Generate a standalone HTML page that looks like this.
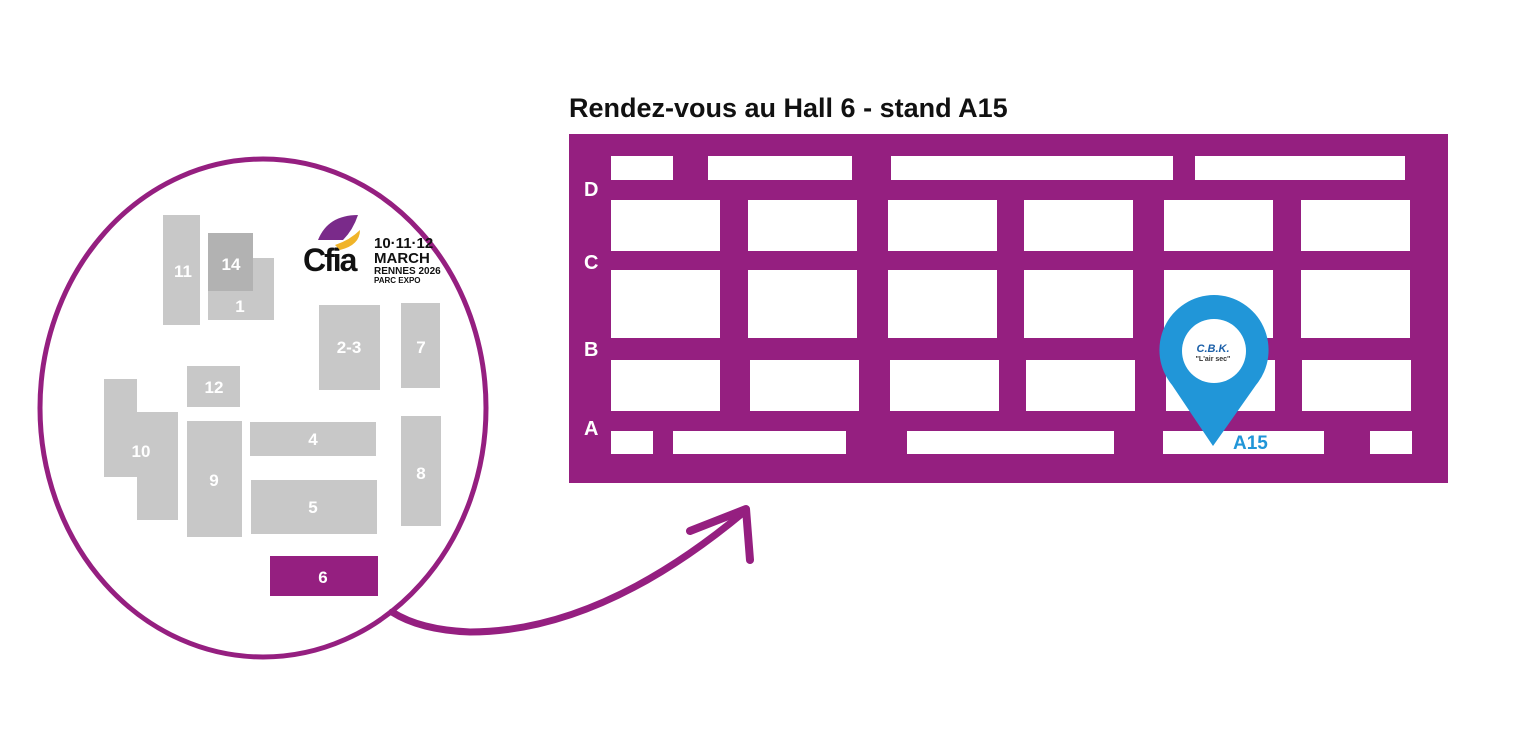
<!DOCTYPE html>
<html><head><meta charset="utf-8"><style>
html,body{margin:0;padding:0;background:#fff;}
svg{display:block;}
text{font-family:"Liberation Sans",sans-serif;font-weight:bold;}
</style></head><body>
<svg width="1536" height="730" viewBox="0 0 1536 730" xmlns="http://www.w3.org/2000/svg">
<text x="569" y="117" font-size="27" fill="#111">Rendez-vous au Hall 6 - stand A15</text>
<rect x="569" y="134" width="879" height="349" fill="#951f80"/>
<g fill="#fff">
<rect x="611" y="156" width="62" height="24"/><rect x="708" y="156" width="144" height="24"/><rect x="891" y="156" width="282" height="24"/><rect x="1195" y="156" width="210" height="24"/>
<rect x="611" y="200" width="109" height="51"/><rect x="748" y="200" width="109" height="51"/><rect x="888" y="200" width="109" height="51"/><rect x="1024" y="200" width="109" height="51"/><rect x="1164" y="200" width="109" height="51"/><rect x="1301" y="200" width="109" height="51"/>
<rect x="611" y="270" width="109" height="68"/><rect x="748" y="270" width="109" height="68"/><rect x="888" y="270" width="109" height="68"/><rect x="1024" y="270" width="109" height="68"/><rect x="1164" y="270" width="109" height="68"/><rect x="1301" y="270" width="109" height="68"/>
<rect x="611" y="360" width="109" height="51"/><rect x="750" y="360" width="109" height="51"/><rect x="890" y="360" width="109" height="51"/><rect x="1026" y="360" width="109" height="51"/><rect x="1166" y="360" width="109" height="51"/><rect x="1302" y="360" width="109" height="51"/>
<rect x="611" y="431" width="42" height="23"/><rect x="673" y="431" width="173" height="23"/><rect x="907" y="431" width="207" height="23"/><rect x="1163" y="431" width="161" height="23"/><rect x="1370" y="431" width="42" height="23"/>
<text x="584" y="196" font-size="20">D</text><text x="584" y="269" font-size="20">C</text><text x="584" y="356" font-size="20">B</text><text x="584" y="435" font-size="20">A</text>
</g>
<path d="M1214 295 a55 55 0 0 1 42 90 L1213 446 L1172 385 a55 55 0 0 1 42 -90z" fill="#2196d8"/>
<circle cx="1214" cy="351" r="32" fill="#fff"/>
<text x="1213" y="352" font-size="11" fill="#1b5fa8" text-anchor="middle" font-style="italic">C.B.K.</text>
<text x="1213" y="361" font-size="7" fill="#333" text-anchor="middle">"L'air sec"</text>
<text x="1233" y="449" font-size="19" fill="#2196d8">A15</text>

<ellipse cx="263" cy="408" rx="223" ry="249" fill="none" stroke="#951f80" stroke-width="5"/>
<g fill="#c8c8c8">
<rect x="163" y="215" width="37" height="110"/>
<rect x="208" y="258" width="66" height="62"/>
<rect x="319" y="305" width="61" height="85"/>
<rect x="401" y="303" width="39" height="85"/>
<rect x="187" y="366" width="53" height="41"/>
<path d="M104 379h33v33h41v108h-41v-43h-33z"/>
<rect x="187" y="421" width="55" height="116"/>
<rect x="250" y="422" width="126" height="34"/>
<rect x="251" y="480" width="126" height="54"/>
<rect x="401" y="416" width="40" height="110"/>
</g>
<rect x="208" y="233" width="45" height="58" fill="#b2b2b2"/>
<rect x="270" y="556" width="108" height="40" fill="#951f80"/>
<g fill="#fff" font-size="17" text-anchor="middle">
<text x="183" y="277">11</text><text x="231" y="270">14</text><text x="240" y="312">1</text>
<text x="349" y="353">2-3</text><text x="421" y="353">7</text><text x="214" y="393">12</text>
<text x="141" y="457">10</text><text x="214" y="486">9</text><text x="313" y="445">4</text><text x="313" y="513">5</text><text x="421" y="479">8</text><text x="323" y="583">6</text>
</g>
<text x="303" y="271" font-size="32" fill="#111" letter-spacing="-2">Cfia</text>
<path d="M318 240 q10 -25 40 -25 q-5 15 -15 25z" fill="#7a2a8a"/>
<path d="M335 245 q15 -5 25 -15 q0 15 -20 20z" fill="#f0b429"/>
<text x="374" y="248" font-size="15" fill="#111">10·11·12</text>
<text x="374" y="263" font-size="15" fill="#111">MARCH</text>
<text x="374" y="274" font-size="10" fill="#111" font-weight="normal">RENNES <tspan font-weight="bold">2026</tspan></text>
<text x="374" y="283" font-size="8" fill="#111" font-weight="normal">PARC EXPO</text>

<path d="M392 612 Q420 630 470 632 Q600 632 744 512" fill="none" stroke="#951f80" stroke-width="7" stroke-linecap="round"/>
<path d="M690 531 L746 509 L750 560" fill="none" stroke="#951f80" stroke-width="8" stroke-linecap="round" stroke-linejoin="round"/>
</svg>
</body></html>
